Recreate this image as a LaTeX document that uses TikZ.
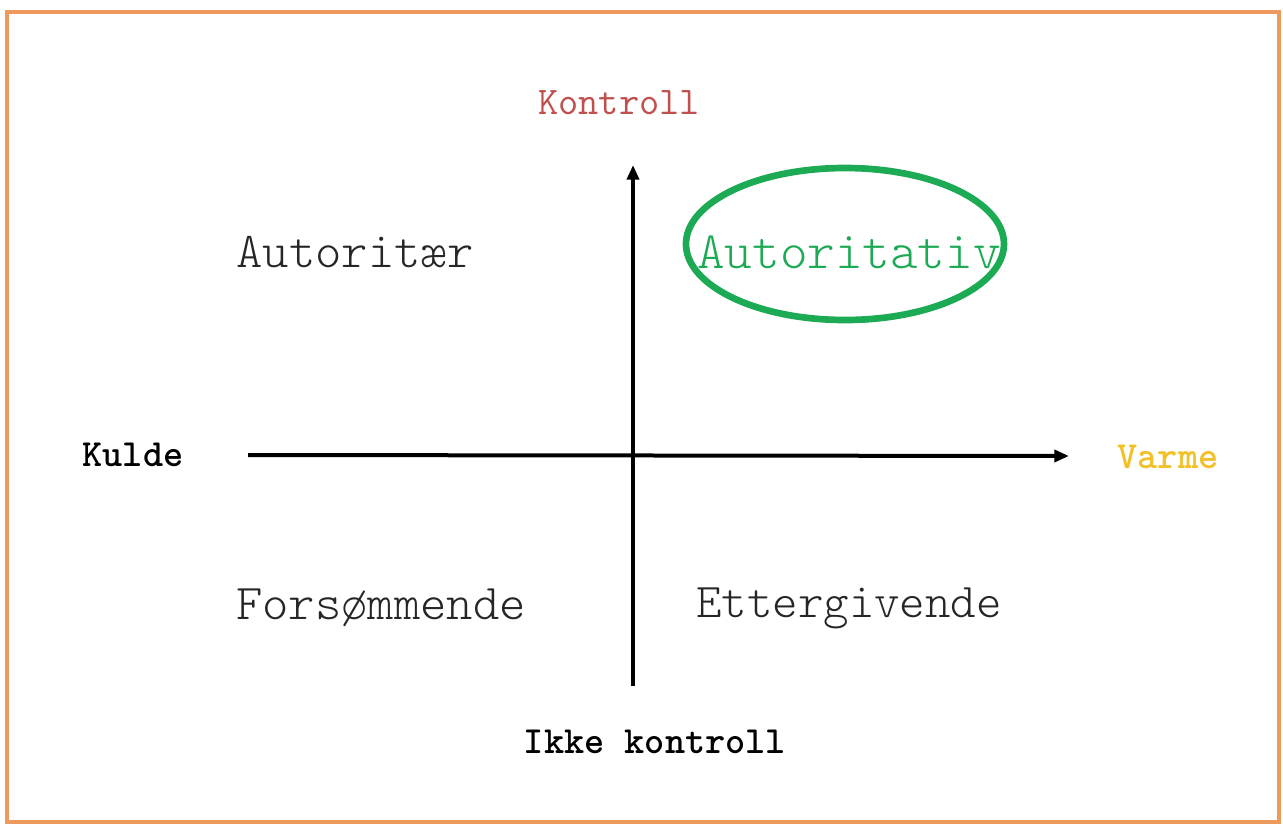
\documentclass[tikz,border=0pt]{standalone}
\usepackage{fontspec}
\newfontfamily\lightmono{Latin Modern Mono Light}
\usetikzlibrary{arrows.meta,shapes.geometric}
\definecolor{frameor}{HTML}{EE9A5C}
\definecolor{kred}{HTML}{C0504D}
\definecolor{agreen}{HTML}{1DAA55}
\definecolor{vgold}{HTML}{F2C028}
\tikzset{
  quad/.style={font=\lightmono\fontsize{37.6}{42}\selectfont, text=black!85, inner sep=0pt},
  axlabel/.style={font=\ttfamily\bfseries\fontsize{28.8}{32}\selectfont, inner sep=0pt},
  axis/.style={line width=3pt, -{Triangle[length=11pt,width=9pt]}}
}
\begin{document}
\begin{tikzpicture}[x=0.75pt,y=-0.75pt]
\useasboundingbox (0,0) rectangle (1283,825);
\fill[white] (0,0) rectangle (1283,825);
\draw[frameor, line width=3pt] (6.5,11.5) rectangle (1278.5,821.5);
\coordinate (vb) at (633,686);
\coordinate (vt) at (633,165);
\coordinate (hl) at (248,455);
\coordinate (hr) at (1069,456);
\draw[axis] (vb) -- (vt);
\draw[axis] (hl) -- (hr);
\node[axlabel, font=\ttfamily\fontsize{29.4}{32}\selectfont, text=kred] (kontroll) at (619,103) {Kontroll};
\node[axlabel, text=black] (ikke) at (655,742) {Ikke kontroll};
\node[axlabel, text=black] (kulde) at (133,455) {Kulde};
\node[axlabel, text=vgold] (varme) at (1168,457) {Varme};
\node[quad] (autoritaer) at (355,252) {Autoritær};
\node[quad, font=\lightmono\fontsize{39.4}{44}\selectfont, text=agreen] (autoritativ) at (849,252) {Autoritativ};
\node[quad] (forsommende) at (381,608) {Forsømmende};
\node[quad, font=\lightmono\fontsize{36.4}{42}\selectfont] (ettergivende) at (849,608) {Ettergivende};
\node[draw=agreen, line width=5pt, ellipse, minimum width=318*0.75pt, minimum height=152*0.75pt, inner sep=0pt] (ring) at (845,244) {};
\end{tikzpicture}
\end{document}
